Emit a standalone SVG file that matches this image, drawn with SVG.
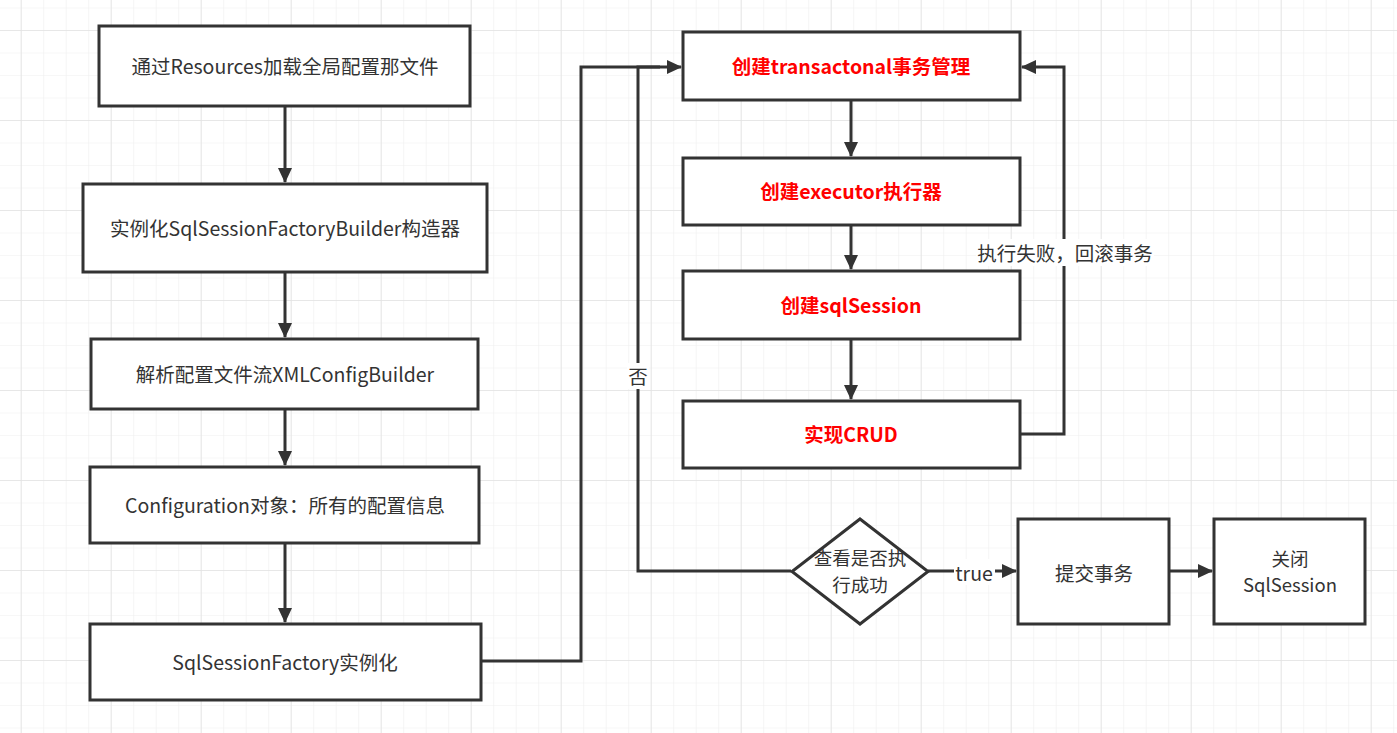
<svg xmlns="http://www.w3.org/2000/svg" width="1397" height="733" viewBox="0 0 1397 733">
<defs>
<pattern id="minor" x="-1.8" y="7.5" width="22.5" height="22.5" patternUnits="userSpaceOnUse">
<path d="M0 0H22.5M0 0V22.5" fill="none" stroke="#efefef" stroke-width="1.2"/>
</pattern>
<pattern id="major" x="20.7" y="30" width="90" height="90" patternUnits="userSpaceOnUse">
<path d="M0 0H90M0 0V90" fill="none" stroke="#e2e2e2" stroke-width="1.5"/>
</pattern>
<marker id="arr" markerWidth="16" markerHeight="14" refX="14" refY="7" orient="auto" markerUnits="userSpaceOnUse">
<path d="M0 0L15 7L0 14Z" fill="#333"/>
</marker>
<style>
.box{fill:#fff;stroke:#333;stroke-width:3}
.t{font-family:"Noto Sans CJK SC","Noto Sans",sans-serif;font-size:19.5px;fill:#333;text-anchor:middle;dominant-baseline:central}
.s{font-size:18.5px}
.r{fill:#ff0000;font-weight:bold}
.c{fill:none;stroke:#333;stroke-width:3}
.lbl{fill:#fff}
</style>
</defs>
<rect width="1397" height="733" fill="#fff"/>
<rect width="1397" height="733" fill="url(#minor)"/>
<rect width="1397" height="733" fill="url(#major)"/>
<g id="connectors">
<path class="c" d="M285 106V182" marker-end="url(#arr)"/>
<path class="c" d="M285 272V337" marker-end="url(#arr)"/>
<path class="c" d="M285 409V465" marker-end="url(#arr)"/>
<path class="c" d="M285 543V622" marker-end="url(#arr)"/>
<path class="c" d="M481 661H581V67H681" marker-end="url(#arr)"/>
<path class="c" d="M851 100V156" marker-end="url(#arr)"/>
<path class="c" d="M851 225V269" marker-end="url(#arr)"/>
<path class="c" d="M851 339V399" marker-end="url(#arr)"/>
<path class="c" d="M1020 434H1064V67H1022" marker-end="url(#arr)"/>
<path class="c" d="M791 571H638V67H660"/>
<path class="c" d="M928 571H1016" marker-end="url(#arr)"/>
<path class="c" d="M1170 571H1212" marker-end="url(#arr)"/>
<rect class="lbl" x="976" y="239" width="178" height="27"/>
<text class="t" x="1065" y="252">执行失败，回滚事务</text>
<rect class="lbl" x="627" y="363" width="22" height="26"/>
<text class="t" x="638" y="375">否</text>
<rect class="lbl" x="954" y="559" width="41" height="26"/>
<text class="t" x="974" y="572">true</text>
</g>
<g id="n1"><rect class="box" x="99" y="26" width="371" height="80"/><text class="t" x="285" y="65">通过Resources加载全局配置那文件</text></g>
<g id="n2"><rect class="box" x="83" y="184" width="404" height="88"/><text class="t" x="285" y="227">实例化SqlSessionFactoryBuilder构造器</text></g>
<g id="n3"><rect class="box" x="91" y="339" width="387" height="70"/><text class="t" x="285" y="373">解析配置文件流XMLConfigBuilder</text></g>
<g id="n4"><rect class="box" x="90" y="467" width="389" height="76"/><text class="t" x="285" y="504">Configuration对象：所有的配置信息</text></g>
<g id="n5"><rect class="box" x="90" y="624" width="391" height="76"/><text class="t" x="285" y="661">SqlSessionFactory实例化</text></g>
<g id="n6"><rect class="box" x="683" y="32" width="337" height="68"/><text class="t r" x="851" y="65">创建transactonal事务管理</text></g>
<g id="n7"><rect class="box" x="683" y="158" width="337" height="67"/><text class="t r" x="851" y="190">创建executor执行器</text></g>
<g id="n8"><rect class="box" x="683" y="271" width="337" height="68"/><text class="t r" x="851" y="304">创建sqlSession</text></g>
<g id="n9"><rect class="box" x="683" y="401" width="337" height="67"/><text class="t r" x="851" y="433">实现CRUD</text></g>
<g id="n10"><path class="box" d="M860 519L928 571.5L860 624L792 571.5Z"/><text class="t s" x="860" y="557">查看是否执</text><text class="t s" x="860" y="584">行成功</text></g>
<g id="n11"><rect class="box" x="1018" y="519" width="151" height="105"/><text class="t" x="1094" y="572">提交事务</text></g>
<g id="n12"><rect class="box" x="1214" y="519" width="151" height="105"/><text class="t s" x="1290" y="558">关闭</text><text class="t s" x="1290" y="584">SqlSession</text></g>
</svg>
